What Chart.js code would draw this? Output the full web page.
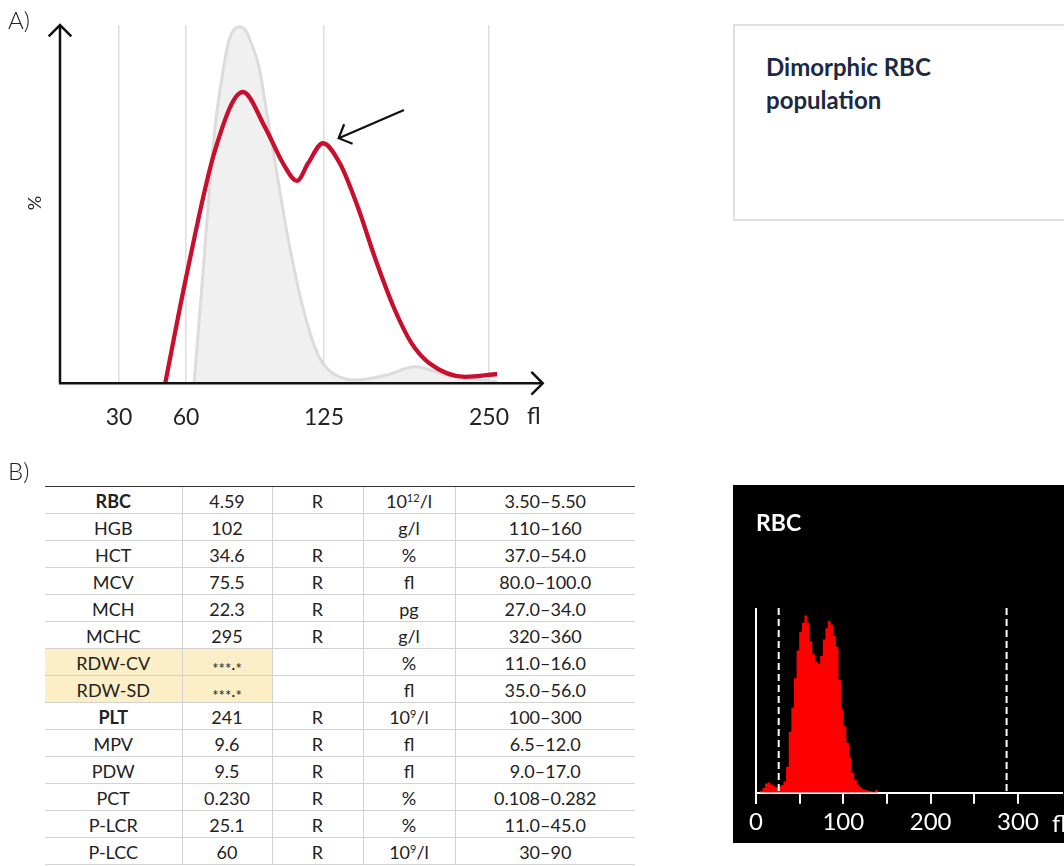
<!DOCTYPE html>
<html>
<head>
<meta charset="utf-8">
<script src="https://cdn.jsdelivr.net/npm/chart.js@4.4.1/dist/chart.umd.min.js"></script>
<style>
html,body{margin:0;padding:0;background:#fff;width:1064px;height:866px;overflow:hidden;font-family:Lato,"Noto Sans",sans-serif;color:#222;}
.abs{position:absolute;white-space:nowrap;}
#cA{position:absolute;left:0;top:0;}
#lblA,#lblB{font-size:24px;line-height:1;font-weight:300;color:#222;}
#lblA{left:8px;top:8px;}
#lblB{left:8px;top:459px;}
#pct{left:14px;top:193px;width:40px;height:20px;line-height:20px;text-align:center;font-size:18px;transform:rotate(-90deg);color:#222;}
#flA{left:527px;top:404px;font-size:23px;line-height:1;font-weight:400;color:#222;}
#box{position:absolute;left:733px;top:24px;width:360px;height:193px;border:2px solid #e0e0e0;}
#boxText{left:766px;top:50px;font-size:24px;line-height:33px;font-weight:700;color:#1b2a41;}
#black{position:absolute;left:733px;top:485px;width:331px;height:358px;background:#000;}
#cB{position:absolute;left:733px;top:485px;}
#rbcTitle{left:756px;top:511px;font-size:23px;line-height:1;font-weight:700;color:#fff;}
#flB{left:1052px;top:811px;font-size:24px;line-height:1;font-weight:400;color:#fff;}
#labTable{position:absolute;left:45px;top:486px;width:590px;border-collapse:collapse;table-layout:fixed;font-size:18px;color:#222;}
#labTable tr{height:27px;}
#labTable td{padding:2px 0 0 0;text-align:center;vertical-align:middle;border-bottom:1px solid #d2d2d2;border-left:1px solid #d2d2d2;line-height:22px;}
#labTable td:first-child{border-left:none;}
#labTable tr:first-child td{border-top:1.5px solid #333;}
#labTable td.hl{background:#fcefc8;}
#labTable td.b{font-weight:700;}
#labTable sup{font-size:11px;line-height:0;vertical-align:6px;}
.ast{font-size:15px;position:relative;top:4px;}
</style>
</head>
<body>
<canvas id="cA" width="560" height="440"></canvas>
<div class="abs" id="lblA">A)</div>
<div class="abs" id="pct">%</div>
<div class="abs" id="flA">fl</div>

<div id="box"></div>
<div class="abs" id="boxText">Dimorphic RBC<br>population</div>

<div class="abs" id="lblB">B)</div>
<table id="labTable"><colgroup><col style="width:137px"><col style="width:90px"><col style="width:91px"><col style="width:92px"><col style="width:180px"></colgroup><tbody id="labBody"></tbody></table>

<div id="black"></div>
<canvas id="cB" width="331" height="358"></canvas>
<div class="abs" id="rbcTitle">RBC</div>
<div class="abs" id="flB">fl</div>

<script>
// ---------- Panel A data (schematic RBC volume curves) ----------
const volumeTicks = [30, 60, 125, 250];
const normalFl  = [63.8, 67, 70.4, 73.7, 77, 80.3, 85, 88.3, 91.1, 94.4, 97.7, 101, 104.3, 107.6, 110.9, 114.2, 117.5, 120.7, 124.1, 129.5, 137, 148.3, 172.4, 194, 218, 256];
const normalPct = [0, 23.2, 49.2, 71.5, 85.5, 95.8, 99.5, 98.3, 94.4, 88.3, 76.8, 65.1, 53.4, 41.9, 32.1, 23.2, 15.9, 10.1, 5.9, 3.4, 1.7, 0.9, 2.3, 4.6, 2.3, 0.4];
const dimorphicFl  = [50.7, 60, 73.7, 86.8, 97.2, 105.7, 112.3, 117.5, 124.5, 137, 150.6, 164.2, 177.7, 191.3, 204.8, 231.9, 256];
const dimorphicPct = [0, 29.4, 65.1, 81.3, 71.5, 61.4, 56.5, 61.4, 67.0, 61.4, 49.2, 34.4, 21.3, 11.2, 5.6, 1.8, 2.6];
const arrowTail = [185.6, 76.3];
const arrowTip  = [136.1, 68.4];

// ---------- Panel B data ----------
const labParams  = ['RBC','HGB','HCT','MCV','MCH','MCHC','RDW-CV','RDW-SD','PLT','MPV','PDW','PCT','P-LCR','P-LCC'];
const labResults = ['4.59','102','34.6','75.5','22.3','295','***.*','***.*','241','9.6','9.5','0.230','25.1','60'];
const labFlags   = ['R','','R','R','R','R','','','R','R','R','R','R','R'];
const labUnits   = ['10^12/l','g/l','%','fl','pg','g/l','%','fl','10^9/l','fl','fl','%','%','10^9/l'];
const labRanges  = ['3.50–5.50','110–160','37.0–54.0','80.0–100.0','27.0–34.0','320–360','11.0–16.0','35.0–56.0','100–300','6.5–12.0','9.0–17.0','0.108–0.282','11.0–45.0','30–90'];
const boldParams = ['RBC','PLT'];
const flaggedParams = ['RDW-CV','RDW-SD'];

const histFl     = [0,3,6,9,12,15,18,21,24,27,30,33,36,39,42,45,48,51,54,57,60,63,66,69,72,75,78,81,84,87,90,93,96,99,102,105,108,111,114,117,120,123,126,129,132,135,138,141,144];
const histCounts = [0,0,1,2.5,5,5.5,4.5,3.5,3,3.5,4,6,14,33,46,62,77,87,92,96,92,82,75,71,70,74,83,89,93,91,85,79,61,45,36,27,19,11,7,4.5,3,2,1.5,1,0.8,0.5,1.5,0,0];
const histTicks  = [0,50,100,150,200,250,300];
const discriminators = [26, 287];

// ---------- Table ----------
(function(){
  const body = document.getElementById('labBody');
  const unitHtml = u => u.replace(/\^(\d+)/, '<sup>$1</sup>');
  labParams.forEach((p,i)=>{
    const tr = document.createElement('tr');
    const hl = flaggedParams.includes(p) ? ' hl' : '';
    const b = boldParams.includes(p) ? ' b' : '';
    const res = labResults[i].replace(/\*/g, '<span class="ast">*</span>');
    tr.innerHTML = '<td class="'+(hl+b).trim()+'">'+p+'</td>'+
                   '<td class="'+hl.trim()+'">'+res+'</td>'+
                   '<td>'+labFlags[i]+'</td>'+
                   '<td>'+unitHtml(labUnits[i])+'</td>'+
                   '<td>'+labRanges[i]+'</td>';
    body.appendChild(tr);
  });
})();

// ---------- Piecewise (schematic) volume scale ----------
const knotFl   = [0, 30, 60, 125, 250, 290];
const knotFrac = [0, 0.1222, 0.2610, 0.5469, 0.8888, 1];
function interp(v, xs, ys){
  for (let i = 1; i < xs.length; i++){
    if (v <= xs[i] || i === xs.length - 1){
      const t = (v - xs[i-1]) / (xs[i] - xs[i-1]);
      return ys[i-1] + t * (ys[i] - ys[i-1]);
    }
  }
}
class PiecewiseScale extends Chart.LinearScale {
  getPixelForValue(value){
    if (value === null || value === undefined || isNaN(value)) return NaN;
    return this.getPixelForDecimal(interp(value, knotFl, knotFrac));
  }
  getValueForPixel(pixel){
    return interp(this.getDecimalForPixel(pixel), knotFrac, knotFl);
  }
}
PiecewiseScale.id = 'piecewise';
PiecewiseScale.defaults = Chart.LinearScale.defaults;
Chart.register(PiecewiseScale);

function chevron(ctx, tx, ty, ang, len){
  ctx.beginPath();
  ctx.moveTo(tx + len*Math.cos(ang + Math.PI*0.75), ty + len*Math.sin(ang + Math.PI*0.75));
  ctx.lineTo(tx, ty);
  ctx.lineTo(tx + len*Math.cos(ang - Math.PI*0.75), ty + len*Math.sin(ang - Math.PI*0.75));
  ctx.stroke();
}

const panelAPlugin = {
  id: 'panelADecor',
  afterDatasetsDraw(chart){
    const {ctx, chartArea: a, scales: {x, y}} = chart;
    ctx.save();
    ctx.strokeStyle = '#111';
    ctx.lineWidth = 2.5;
    ctx.lineJoin = 'miter';
    ctx.beginPath();
    ctx.moveTo(a.left, a.bottom); ctx.lineTo(a.left, a.top);
    ctx.moveTo(a.left - 1, a.bottom); ctx.lineTo(a.right, a.bottom);
    ctx.stroke();
    chevron(ctx, a.left, a.top, -Math.PI/2, 16);
    chevron(ctx, a.right, a.bottom, 0, 16);
    const sx = x.getPixelForValue(arrowTail[0]), sy = y.getPixelForValue(arrowTail[1]);
    const tx = x.getPixelForValue(arrowTip[0]),  ty = y.getPixelForValue(arrowTip[1]);
    ctx.lineWidth = 2.2;
    ctx.beginPath(); ctx.moveTo(sx, sy); ctx.lineTo(tx, ty); ctx.stroke();
    chevron(ctx, tx, ty, Math.atan2(ty - sy, tx - sx), 15);
    ctx.restore();
  }
};

new Chart(document.getElementById('cA'), {
  type: 'line',
  data: {
    datasets: [
      {
        label: 'Dimorphic',
        data: dimorphicFl.map((v,i)=>({x:v, y:dimorphicPct[i]})),
        borderColor: '#c8102e', borderWidth: 4.3, pointRadius: 0,
        fill: false, cubicInterpolationMode: 'monotone'
      },
      {
        label: 'Normal',
        data: normalFl.map((v,i)=>({x:v, y:normalPct[i]})),
        borderColor: '#dcdcdc', borderWidth: 3, pointRadius: 0,
        backgroundColor: '#f0f0f0',
        fill: 'origin', cubicInterpolationMode: 'monotone'
      }
    ]
  },
  options: {
    responsive: false, animation: false,
    layout: { padding: { left: 60, right: 17.3, top: 25, bottom: 6.7 } },
    plugins: { legend: { display: false }, tooltip: { enabled: false } },
    scales: {
      x: {
        type: 'piecewise', min: 0, max: 290,
        afterBuildTicks: s => { s.ticks = volumeTicks.map(v => ({value: v})); },
        afterFit: s => { s.height = 50; },
        grid: { color: '#dddddd', lineWidth: 1.5, drawTicks: false },
        border: { display: false },
        ticks: { color: '#222', padding: 20, font: { family: 'Lato', size: 23, weight: 400 }, callback: v => String(v), maxRotation: 0, autoSkip: false }
      },
      y: { display: false, min: 0, max: 100 }
    }
  },
  plugins: [panelAPlugin]
});

// ---------- RBC histogram (analyser screen) ----------
const histPlugin = {
  id: 'histDecor',
  afterDraw(chart){
    const {ctx, chartArea: a, scales: {x}} = chart;
    ctx.save();
    ctx.strokeStyle = '#fff';
    ctx.lineWidth = 2;
    ctx.beginPath(); ctx.moveTo(a.left, a.top); ctx.lineTo(a.left, a.bottom + 11); ctx.stroke();
    ctx.setLineDash([7, 4]);
    discriminators.forEach(v => {
      const px = x.getPixelForValue(v);
      ctx.beginPath(); ctx.moveTo(px, a.top); ctx.lineTo(px, a.bottom); ctx.stroke();
    });
    ctx.restore();
  }
};

new Chart(document.getElementById('cB'), {
  type: 'line',
  data: {
    datasets: [{
      label: 'RBC',
      data: histFl.map((v,i)=>({x:v, y:histCounts[i]})),
      stepped: 'middle', borderWidth: 0, pointRadius: 0,
      backgroundColor: '#ff0000', borderColor: '#ff0000', fill: 'origin'
    }]
  },
  options: {
    responsive: false, animation: false,
    layout: { padding: { left: 23, right: 2.4, top: 123, bottom: 10.3 } },
    plugins: { legend: { display: false }, tooltip: { enabled: false } },
    scales: {
      x: {
        type: 'linear', min: 0, max: 350, z: 1,
        afterBuildTicks: s => { s.ticks = histTicks.map(v => ({value: v})); },
        afterFit: s => { s.height = 40; },
        grid: { drawOnChartArea: false, drawTicks: true, tickLength: 11, color: '#fff', lineWidth: 2 },
        border: { display: true, color: '#fff', width: 2 },
        ticks: { color: '#fff', padding: 4, font: { family: 'Lato', size: 24, weight: 400 }, callback: v => (v % 100 === 0 ? String(v) : ''), maxRotation: 0, autoSkip: false }
      },
      y: { display: false, min: 0, max: 100 }
    }
  },
  plugins: [histPlugin]
});
</script>
</body>
</html>
